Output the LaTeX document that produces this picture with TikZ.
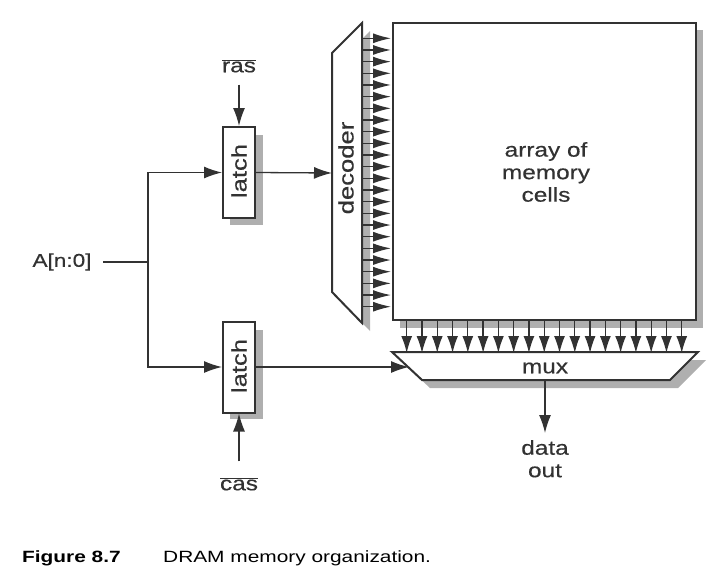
\documentclass[tikz,border=0pt]{standalone}
\usepackage{fontspec}
\setmainfont{Liberation Sans}
\newfontfamily\lblfont[FakeStretch=1.22,FakeBold=0.4]{Liberation Sans}
\newfontfamily\capfont[FakeStretch=1.28]{Liberation Sans}
\usetikzlibrary{arrows.meta}
\definecolor{ln}{RGB}{50,50,50}
\definecolor{sh}{RGB}{175,175,175}
\tikzset{
  conn/.style={draw=ln, line width=1.3pt},
  arr/.style={conn, -{Latex[length=18pt,width=12pt]}},
  decarr/.style={conn, -{Latex[length=18pt,width=10pt]}},
  muxarr/.style={conn, -{Latex[length=17pt,width=11pt]}},
  boxline/.style={draw=ln, line width=2pt, fill=white},
  shade/.style={fill=sh},
  lbl/.style={font=\lblfont\fontsize{20}{22.5}\selectfont, text=ln, inner sep=0pt},
  latchbox/.style={boxline, minimum width=32pt, minimum height=91pt, inner sep=0pt},
  capt/.style={font=\capfont\fontsize{16.3}{18}\selectfont, inner sep=0pt, anchor=base west}
}
\begin{document}
\begin{tikzpicture}[x=1pt,y=-1pt]
\useasboundingbox (0,0) rectangle (720,573);

% ---- array of memory cells ----
\fill[shade] (400,30) rectangle (703,328);
\node[boxline, anchor=north west, minimum width=303pt, minimum height=297pt, inner sep=0pt] (arr) at (392,22) {};
\node[lbl, align=center] (arrtxt) at (546,172) {array of\\memory\\cells};

% ---- decoder ----
\fill[shade] (340,61) -- (370,31) -- (370,331) -- (340,300) -- cycle;
\draw[boxline] (332,53) -- (362,23) -- (362,323) -- (332,292) -- cycle;
\node[lbl, rotate=90, font=\lblfont\fontsize{21}{23}\selectfont] (dec) at (346,168) {decoder};
\coordinate (decin) at (332,173);
\foreach \i in {0,...,23} {
  \coordinate (ds\i) at (362,{38.3+\i*11.67});
  \coordinate (de\i) at (391,{38.3+\i*11.67});
  \draw[decarr] (ds\i) -- (de\i);
}

% ---- mux ----
\fill[shade] (400,360) -- (706,360) -- (678,388) -- (430,388) -- cycle;
\draw[boxline] (392,352) -- (698,352) -- (670,380) -- (422,380) -- cycle;
\node[lbl] (mux) at (545,368) {mux};
\coordinate (muxin) at (409,367);
\coordinate (muxout) at (545,380);
\foreach \i in {0,...,18} {
  \coordinate (ms\i) at ({406.7+\i*15.28},320);
  \coordinate (me\i) at ({406.7+\i*15.28},353);
  \draw[muxarr] (ms\i) -- (me\i);
}

% ---- latches ----
\fill[shade] (230,135) rectangle (263,225);
\node[latchbox] (l1) at (239,172.5) {};
\node[lbl, rotate=90, font=\lblfont\fontsize{21}{23}\selectfont] (l1t) at (239,171) {latch};
\fill[shade] (230,330) rectangle (263,419);
\node[latchbox] (l2) at (239,367) {};
\node[lbl, rotate=90, font=\lblfont\fontsize{21}{23}\selectfont] (l2t) at (239,366) {latch};

% ---- signals ----
\node[lbl] (ras) at (239,66) {$\overline{\hbox{\lblfont\fontsize{20}{22.5}\selectfont ras}}$};
\node[lbl] (cas) at (239,484) {$\overline{\hbox{\lblfont\fontsize{20}{22.5}\selectfont cas}}$};
\node[lbl, font=\lblfont\fontsize{18.5}{21}\selectfont] (A) at (62,262) {A[n:0]};
\coordinate (astart) at (103,262);
\coordinate (bus) at (148,262);

\draw[conn] (astart) -- (bus);
\draw[arr] (bus) |- (l1.west);
\draw[arr] (bus) |- (l2.west);
\draw[arr] (l1.east) -- (decin);
\draw[arr] (l2.east) -- (muxin);
\draw[arr] ([yshift=-12pt]ras.south) -- (l1.north);
\draw[arr] ([yshift=16pt]cas.north) -- (l2.south);

% ---- data out ----
\node[lbl, align=center, anchor=north] (dout) at (545,440) {data\\out};
\draw[arr] (muxout) -- ([yshift=7pt]dout.north);

% ---- caption ----
\node[capt] (fig) at (22,562) {\bfseries Figure 8.7};
\node[capt] (captxt) at (163,562) {DRAM memory organization.};
\end{tikzpicture}
\end{document}
